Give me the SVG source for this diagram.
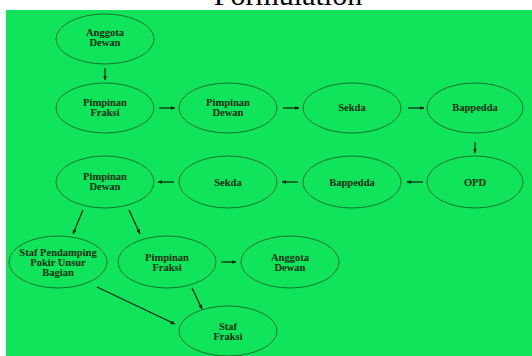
<svg xmlns="http://www.w3.org/2000/svg" width="532" height="356" viewBox="0 0 532 356">
<defs>
<style>
.bg{fill:#10e45a}
.n ellipse{fill:none;stroke:#13732f;stroke-width:1}
.n text{font-family:"Liberation Serif",serif;font-weight:bold;font-size:10.5px;fill:#0b2d14;text-anchor:middle}
.e line{stroke:#0b2010;stroke-width:1.2;marker-end:url(#a)}
.t{font-family:"Liberation Serif",serif;font-size:30px;fill:#000;text-anchor:middle}
</style>
<marker id="a" viewBox="0 0 10 10" refX="9" refY="5" markerWidth="4" markerHeight="4" orient="auto" markerUnits="strokeWidth">
<path d="M0,1 L10,5 L0,9 z" fill="#0b2010"/>
</marker>
</defs>
<rect width="532" height="356" fill="#fff"/>
<text class="t" x="288" y="5">Formulation</text>
<rect class="bg" x="6" y="10" width="526" height="346"/>
<g id="connectors" class="e">
<line x1="105" y1="68" x2="105" y2="80"/>
<line x1="159" y1="108" x2="175" y2="108"/>
<line x1="283" y1="108" x2="299" y2="108"/>
<line x1="408" y1="108" x2="424" y2="108"/>
<line x1="475" y1="142" x2="475" y2="153"/>
<line x1="423" y1="182" x2="407" y2="182"/>
<line x1="298" y1="182" x2="282" y2="182"/>
<line x1="174" y1="182" x2="158" y2="182"/>
<line x1="83" y1="210" x2="73" y2="234"/>
<line x1="129" y1="210" x2="140" y2="234"/>
<line x1="221" y1="262" x2="236" y2="262"/>
<line x1="192" y1="288" x2="202" y2="309"/>
<line x1="97" y1="287" x2="175" y2="324"/>
</g>
<g id="n1" class="n"><ellipse cx="105" cy="39" rx="49" ry="25"/><text x="105" y="36">Anggota</text><text x="105" y="46">Dewan</text></g>
<g id="n2" class="n"><ellipse cx="105" cy="108" rx="49" ry="25"/><text x="105" y="105.5">Pimpinan</text><text x="105" y="115.5">Fraksi</text></g>
<g id="n3" class="n"><ellipse cx="228" cy="108" rx="49" ry="25"/><text x="228" y="105.5">Pimpinan</text><text x="228" y="115.5">Dewan</text></g>
<g id="n4" class="n"><ellipse cx="352" cy="108" rx="49" ry="25"/><text x="352" y="111">Sekda</text></g>
<g id="n5" class="n"><ellipse cx="475" cy="108" rx="48" ry="25"/><text x="475" y="111">Bappedda</text></g>
<g id="n6" class="n"><ellipse cx="475" cy="182" rx="48" ry="26"/><text x="475" y="185.5">OPD</text></g>
<g id="n7" class="n"><ellipse cx="352" cy="182" rx="49" ry="26"/><text x="352" y="185.5">Bappedda</text></g>
<g id="n8" class="n"><ellipse cx="228" cy="182" rx="49" ry="26"/><text x="228" y="185.5">Sekda</text></g>
<g id="n9" class="n"><ellipse cx="105" cy="182" rx="49" ry="26"/><text x="105" y="179.5">Pimpinan</text><text x="105" y="189.5">Dewan</text></g>
<g id="n10" class="n"><ellipse cx="58" cy="262" rx="49" ry="26"/><text x="58" y="256">Staf Pendamping</text><text x="58" y="266">Pokir Unsur</text><text x="58" y="276">Bagian</text></g>
<g id="n11" class="n"><ellipse cx="167" cy="262" rx="49" ry="26"/><text x="167" y="260.5">Pimpinan</text><text x="167" y="270.5">Fraksi</text></g>
<g id="n12" class="n"><ellipse cx="290" cy="262" rx="49" ry="26"/><text x="290" y="260.5">Anggota</text><text x="290" y="270.5">Dewan</text></g>
<g id="n13" class="n"><ellipse cx="228" cy="331" rx="49" ry="25"/><text x="228" y="329.5">Staf</text><text x="228" y="339.5">Fraksi</text></g>
</svg>
